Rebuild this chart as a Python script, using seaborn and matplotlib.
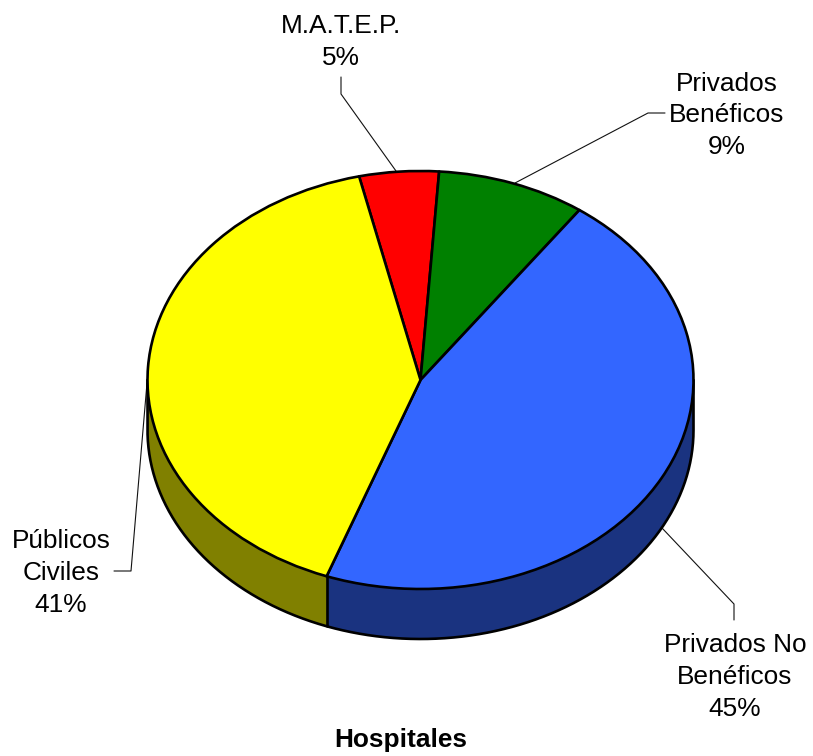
import matplotlib
matplotlib.use("Agg")
import matplotlib.pyplot as plt
import numpy as np
import seaborn as sns

categories = ["M.A.T.E.P.", "Privados\nBenéficos", "Privados No\nBenéficos", "Públicos\nCiviles"]
shares = [4.7, 8.8, 45.7, 40.8]
percent_labels = ["5%", "9%", "45%", "41%"]
top_colors = ["#FF0000", "#008000", "#3366FF", "#FFFF00"]
side_colors = ["#800000", "#004000", "#1A3380", "#808000"]
title = "Hospitales"

W, H = 813, 756
CX, CY, RX, RY, DEPTH = 420.5, 380, 273, 209, 50
START = 103

sns.set_theme(style="white")
plt.rcParams["font.family"] = ["Liberation Sans", "DejaVu Sans"]

fig = plt.figure(figsize=(W / 100, H / 100), dpi=100, facecolor="white")
ax = fig.add_axes([0, 0, 1, 1])
EDGE = 1.9

depth_units = DEPTH / RY
for d in np.linspace(depth_units, 0, 60)[:-1]:
    ax.pie(shares, colors=side_colors, startangle=START, counterclock=False,
           center=(0, -d), radius=1, wedgeprops=dict(linewidth=0))

# outline of the side wall as a single path
t = np.linspace(np.pi, 2 * np.pi, 300)
ox = np.r_[-1, np.cos(t), 1]
oy = np.r_[0, np.sin(t) - depth_units, 0]
ax.plot(ox, oy, color="black", lw=EDGE, zorder=5, solid_joinstyle="round")

ax.pie(shares, colors=top_colors, startangle=START, counterclock=False, center=(0, 0), radius=1,
       wedgeprops=dict(linewidth=EDGE, edgecolor="black", zorder=6, joinstyle="round"))

# seam between the two front slices
boundary = np.deg2rad(START - 360 * sum(shares[:3]) / sum(shares))
bx, by = np.cos(boundary), np.sin(boundary)
ax.plot([bx, bx], [by, by - depth_units], color="black", lw=EDGE, zorder=5, solid_capstyle="round")

ax.set_aspect("auto")
ax.set_xlim(-CX / RX, (W - CX) / RX)
ax.set_ylim(-(H - CY) / RY, CY / RY)
ax.axis("off")

def px(x, y):
    return (x - CX) / RX, (CY - y) / RY

label_pos = [(341, 42), (727, 115.5), (735, 677), (61, 573)]
leaders = [
    [(341, 77), (341, 94), (396, 171)],
    [(515, 183), (648, 113), (665, 113)],
    [(662, 528), (734, 604), (734, 620)],
    [(147, 383), (131, 571), (114, 571)],
]
FS = 18.9
for name, pct, pos, line in zip(categories, percent_labels, label_pos, leaders):
    ax.text(*px(*pos), f"{name}\n{pct}", ha="center", va="center", fontsize=FS,
            color="black", linespacing=1.41, zorder=10)
    pts = [px(*p) for p in line]
    ax.plot([p[0] for p in pts], [p[1] for p in pts], color="#111111", lw=0.8, zorder=4)

ax.text(*px(400.5, 740), title, ha="center", va="center", fontsize=FS, fontweight="bold", color="black")

fig.savefig("out.png", dpi=100, facecolor="white")
